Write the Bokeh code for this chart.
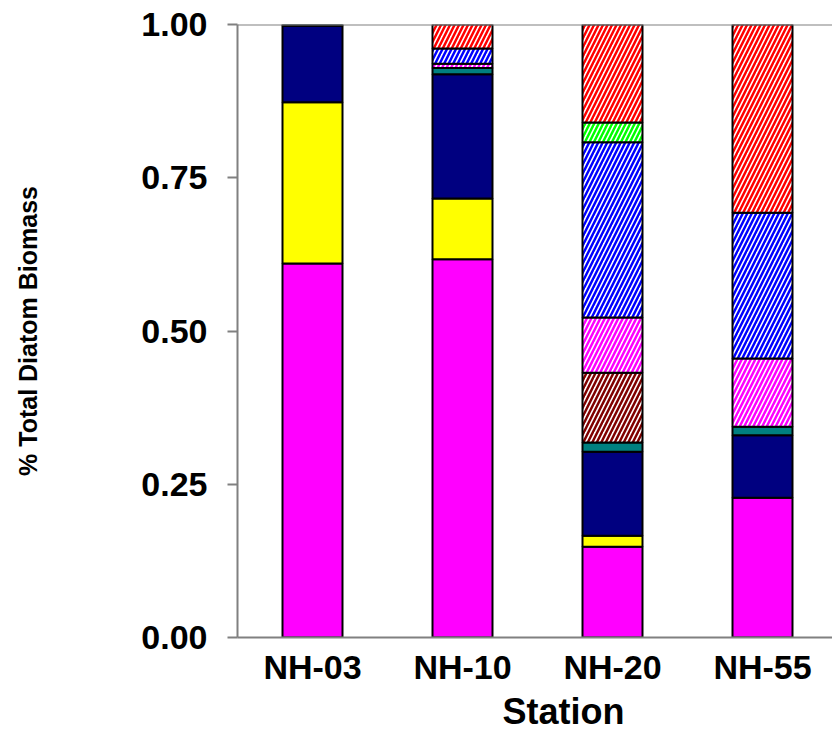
from bokeh.plotting import figure
from bokeh.models import Range1d, FixedTicker, Span, NumeralTickFormatter, ColumnDataSource, Title
from bokeh.embed import file_html
from bokeh.resources import INLINE

stations = ["NH-03", "NH-10", "NH-20", "NH-55"]

# fraction of total diatom biomass per group, stacked from the bottom up
magenta_solid = [0.610, 0.617, 0.148, 0.228]
yellow_solid = [0.263, 0.099, 0.018, 0.000]
navy_solid = [0.125, 0.203, 0.137, 0.102]
teal_solid = [0.002, 0.010, 0.015, 0.014]
brown_hatch = [0.000, 0.000, 0.114, 0.000]
magenta_hatch = [0.000, 0.007, 0.090, 0.111]
blue_hatch = [0.000, 0.025, 0.286, 0.238]
green_hatch = [0.000, 0.000, 0.032, 0.000]
red_hatch = [0.000, 0.039, 0.160, 0.307]

y_ticks = [0.0, 0.25, 0.5, 0.75, 1.0]

# (values, fill colour, hatch colour or None)
layers = [
    (magenta_solid, "#FF00FF", None),
    (yellow_solid, "#FFFF00", None),
    (navy_solid, "#000080", None),
    (teal_solid, "#008080", None),
    (brown_hatch, "#FFFFFF", "#800000"),
    (magenta_hatch, "#FFFFFF", "#FF00FF"),
    (blue_hatch, "#FFFFFF", "#0000FF"),
    (green_hatch, "#FFFFFF", "#00FF00"),
    (red_hatch, "#FFFFFF", "#FF0000"),
]

x_pos = [i + 1 for i in range(len(stations))]

p = figure(
    width=832, height=746,
    output_backend="svg", toolbar_location=None,
    x_range=Range1d(0.5, 0.5 + 595 / 150), y_range=Range1d(0, 1),
    min_border_left=237, min_border_right=0,
    min_border_top=24, min_border_bottom=109,
)
p.background_fill_color = "white"
p.border_fill_color = "white"
p.outline_line_color = None
p.xgrid.grid_line_color = None
p.ygrid.grid_line_color = None

base = [0.0] * len(stations)
for values, fill, hatch in layers:
    xs, bottoms, tops = [], [], []
    for i, v in enumerate(values):
        if v > 0:
            xs.append(x_pos[i])
            bottoms.append(base[i])
            tops.append(base[i] + v)
        base[i] += v
    src = ColumnDataSource(dict(x=xs, bottom=bottoms, top=tops))
    kw = dict(x="x", bottom="bottom", top="top", width=0.4, source=src,
              fill_color=fill, line_color="black", line_width=2)
    if hatch:
        kw.update(hatch_pattern="/", hatch_color=hatch, hatch_scale=9, hatch_weight=2.5)
    p.vbar(**kw)

# frame line along the top of the value axis
p.add_layout(Span(location=1.0, dimension="width", line_color="#808080", line_width=2))

font = "Liberation Sans"

xa = p.xaxis[0]
xa.ticker = FixedTicker(ticks=x_pos)
xa.major_label_overrides = {x: s for x, s in zip(x_pos, stations)}
xa.axis_line_color = "#808080"
xa.axis_line_width = 2
xa.major_tick_line_color = None
xa.minor_tick_line_color = None
xa.major_tick_out = 0
xa.major_label_text_font = font
xa.major_label_text_font_style = "bold"
xa.major_label_text_font_size = "34px"
xa.major_label_text_color = "black"
xa.major_label_standoff = 10

# x-axis title, placed under the station labels right of the frame centre
p.add_layout(Title(
    text="Station", align="left", offset=265, standoff=0,
    text_font=font, text_font_style="bold", text_font_size="36px",
    text_color="black", text_line_height=0.7,
), "below")

ya = p.yaxis[0]
ya.ticker = FixedTicker(ticks=y_ticks)
ya.formatter = NumeralTickFormatter(format="0.00")
ya.axis_line_color = "#808080"
ya.axis_line_width = 2
ya.major_tick_line_color = "#808080"
ya.major_tick_line_width = 2
ya.major_tick_out = 10
ya.major_tick_in = 0
ya.minor_tick_line_color = None
ya.major_label_text_font = font
ya.major_label_text_font_style = "bold"
ya.major_label_text_font_size = "34px"
ya.major_label_text_color = "black"
ya.major_label_standoff = 20
ya.axis_label = "% Total Diatom Biomass"
ya.axis_label_text_font = font
ya.axis_label_text_font_style = "bold"
ya.axis_label_text_font_size = "25px"
ya.axis_label_text_color = "black"
ya.axis_label_standoff = 96

open("out.html", "w").write(file_html(p, INLINE))
